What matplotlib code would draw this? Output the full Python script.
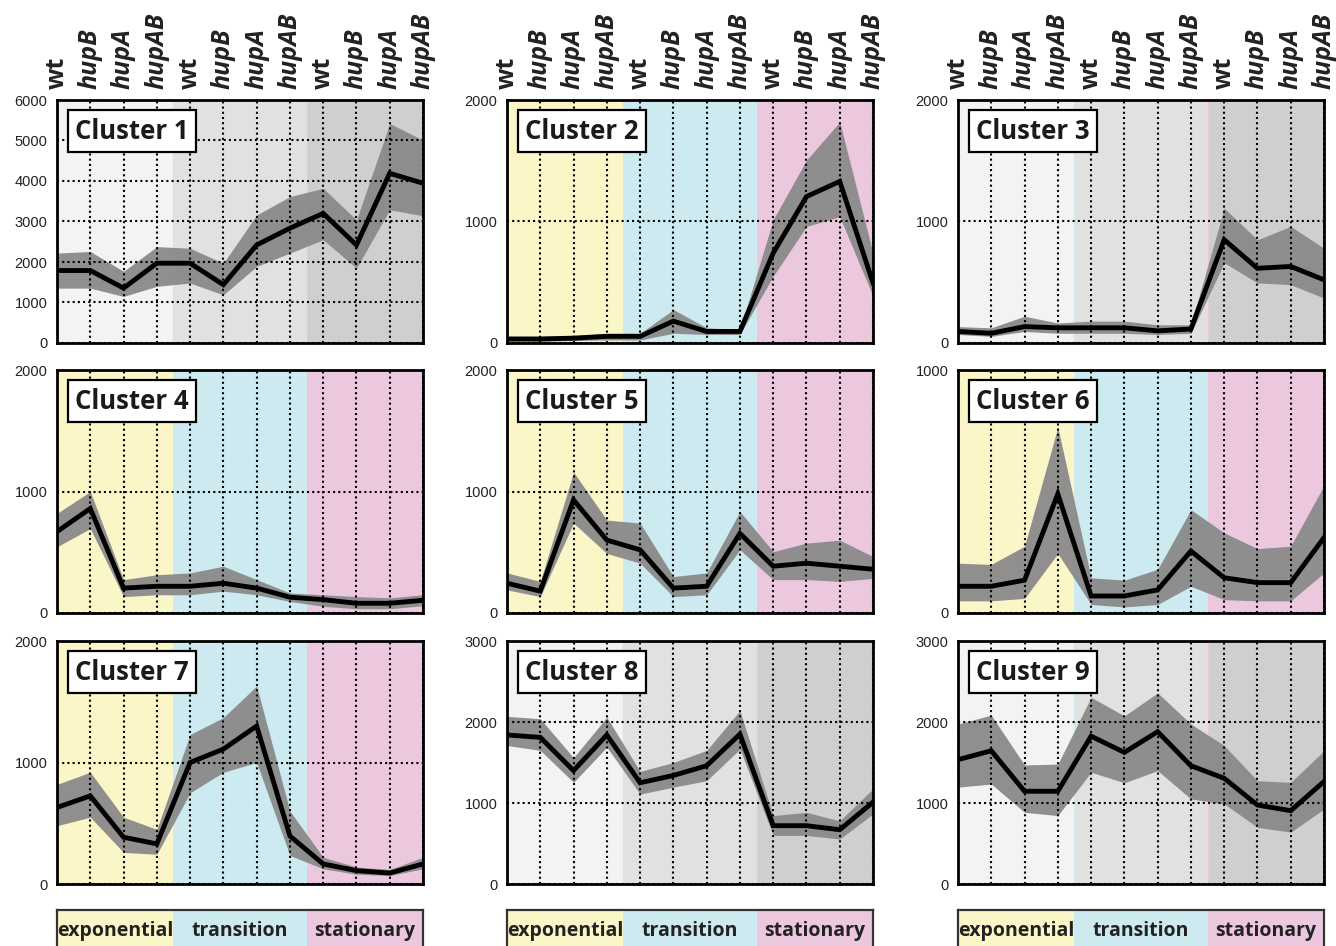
import numpy as np
import matplotlib.pyplot as plt

# Cluster expression profiles: mean line and upper/lower envelope per sample
strains = ['wt', 'hupB', 'hupA', 'hupAB'] * 3
phases = ['exponential', 'transition', 'stationary']

c1_mean = [1790, 1790, 1355, 1970, 1970, 1440, 2420, 2835, 3200, 2420, 4190, 3945]
c1_upper = [2220, 2260, 1770, 2380, 2340, 1970, 3160, 3615, 3820, 3040, 5420, 5010]
c1_lower = [1355, 1355, 1150, 1400, 1480, 1190, 1890, 2220, 2550, 1850, 3290, 3140]

c2_mean = [33, 33, 40, 55, 55, 180, 95, 95, 740, 1205, 1330, 495]
c2_upper = [55, 55, 60, 80, 80, 275, 125, 110, 1015, 1505, 1820, 740]
c2_lower = [15, 15, 20, 25, 25, 80, 70, 70, 550, 960, 1040, 385]

c3_mean = [95, 80, 135, 125, 125, 125, 100, 115, 850, 615, 630, 520]
c3_upper = [135, 125, 220, 165, 180, 180, 150, 150, 1110, 850, 960, 780]
c3_lower = [70, 55, 95, 80, 80, 80, 70, 80, 660, 495, 480, 370]

c4_mean = [670, 860, 205, 220, 220, 245, 205, 130, 110, 80, 80, 105]
c4_upper = [820, 1000, 275, 315, 330, 385, 275, 165, 150, 135, 125, 150]
c4_lower = [545, 695, 135, 150, 150, 180, 150, 95, 55, 35, 35, 60]

c5_mean = [245, 180, 930, 600, 520, 205, 220, 655, 385, 410, 385, 360]
c5_upper = [330, 260, 1160, 765, 740, 300, 330, 835, 505, 575, 600, 465]
c5_lower = [190, 135, 740, 490, 410, 135, 150, 520, 275, 275, 260, 285]

c6_mean = [110, 110, 135, 490, 70, 70, 95, 255, 145, 125, 125, 310]
c6_upper = [205, 200, 275, 765, 145, 135, 180, 425, 330, 265, 275, 525]
c6_lower = [50, 50, 60, 245, 35, 25, 35, 110, 55, 50, 50, 165]

c7_mean = [630, 725, 385, 330, 1000, 1110, 1300, 395, 165, 110, 90, 165]
c7_upper = [820, 920, 550, 450, 1230, 1370, 1630, 600, 220, 140, 120, 220]
c7_lower = [480, 550, 260, 245, 750, 920, 1000, 235, 125, 80, 70, 125]

c8_mean = [1840, 1810, 1400, 1840, 1250, 1340, 1460, 1850, 720, 720, 670, 1010]
c8_upper = [2070, 2040, 1560, 2060, 1390, 1500, 1650, 2140, 845, 885, 780, 1175]
c8_lower = [1710, 1650, 1255, 1690, 1110, 1195, 1275, 1665, 600, 600, 555, 865]

c9_mean = [1535, 1645, 1145, 1145, 1825, 1625, 1880, 1460, 1305, 975, 905, 1265]
c9_upper = [1975, 2085, 1470, 1480, 2305, 2075, 2360, 1975, 1710, 1275, 1255, 1645]
c9_lower = [1195, 1235, 885, 845, 1380, 1250, 1400, 1050, 990, 700, 640, 925]

y_max = [6000, 2000, 2000, 2000, 2000, 1000, 2000, 3000, 3000]
grey_panels = [1, 3, 8, 9]

means = [c1_mean, c2_mean, c3_mean, c4_mean, c5_mean, c6_mean, c7_mean, c8_mean, c9_mean]
uppers = [c1_upper, c2_upper, c3_upper, c4_upper, c5_upper, c6_upper, c7_upper, c8_upper, c9_upper]
lowers = [c1_lower, c2_lower, c3_lower, c4_lower, c5_lower, c6_lower, c7_lower, c8_lower, c9_lower]

phase_colors = ['#fbf6c8', '#cdeaf1', '#ecc8de']
grey_colors = ['#f3f3f3', '#e1e1e2', '#cfcfd2']
phase_edges = [-0.5, 3.5, 7.5, 11.5]

W, H = 1336, 946
fig = plt.figure(figsize=(W / 100, H / 100), dpi=100)

col_left = [57, 507, 958]
row_top = [100, 370, 641]
ax_w, ax_h = 366, 243

x = np.arange(12)
for i in range(9):
    r, c = divmod(i, 3)
    ax = fig.add_axes([col_left[c] / W, 1 - (row_top[r] + ax_h) / H, ax_w / W, ax_h / H])
    cols = grey_colors if (i + 1) in grey_panels else phase_colors
    for k in range(3):
        ax.axvspan(phase_edges[k], phase_edges[k + 1], color=cols[k], lw=0, zorder=0)
    if (i + 1) in grey_panels:
        ax.axvline(3.5, color='#cdeaf1', lw=1, zorder=0.5)
        ax.axvline(7.5, color='#ecc8de', lw=1, zorder=0.5)
        ax.axvline(11, color='#ecc8de', lw=2, zorder=0.5)

    ax.fill_between(x, lowers[i], uppers[i], color='#8a8a8a', alpha=0.95, lw=0, zorder=1)
    ax.plot(x, means[i], color='black', lw=3.5, solid_joinstyle='miter', zorder=3)

    ax.set_xlim(0, 11)
    ax.set_ylim(0, y_max[i])
    ax.set_yticks(np.arange(0, y_max[i] + 1, 1000))
    ax.set_xticks(x)
    ax.set_axisbelow(False)
    ax.grid(True, color='black', ls=(0, (1, 1.5)), lw=1.5)
    ax.tick_params(length=0, labelsize=10.5, pad=7, labelcolor='#222222')
    for t in ax.get_yticklabels():
        t.set_fontfamily('Liberation Sans')
    for s in ax.spines.values():
        s.set_linewidth(2)
        s.set_zorder(4)

    if r == 0:
        ax.xaxis.tick_top()
        ax.set_xticklabels(strains, rotation=90, fontsize=18, fontweight='bold',
                           fontfamily='Open Sans')
        for t in ax.get_xticklabels():
            if t.get_text() != 'wt':
                t.set_fontstyle('italic')
        ax.tick_params(axis='x', pad=8)
    else:
        ax.set_xticklabels([])

    ax.text(0.205, 0.872, f'Cluster {i + 1}', transform=ax.transAxes, ha='center', va='center',
            fontsize=18.5, fontweight='bold', fontfamily='Open Sans', color='#1a1a1a', zorder=6,
            bbox=dict(boxstyle='square,pad=0.28', fc='white', ec='black', lw=1.6))

# Growth phase key under each column
for c in range(3):
    lg = fig.add_axes([col_left[c] / W, 1 - 950 / H, ax_w / W, 40 / H])
    for k in range(3):
        lo, hi = max(phase_edges[k], 0), min(phase_edges[k + 1], 11)
        lg.axvspan(lo, hi, color=phase_colors[k], lw=0)
        lg.text((lo + hi) / 2, 0.47, phases[k],
                ha='center', va='center', fontsize=14, fontweight='bold',
                fontfamily='Open Sans', color='#222222')
    lg.set_xlim(0, 11)
    lg.set_ylim(0, 1)
    lg.set_xticks([])
    lg.set_yticks([])
    for s in lg.spines.values():
        s.set_linewidth(1.6)
        s.set_color('#333333')

fig.savefig('out.png', dpi=100)
